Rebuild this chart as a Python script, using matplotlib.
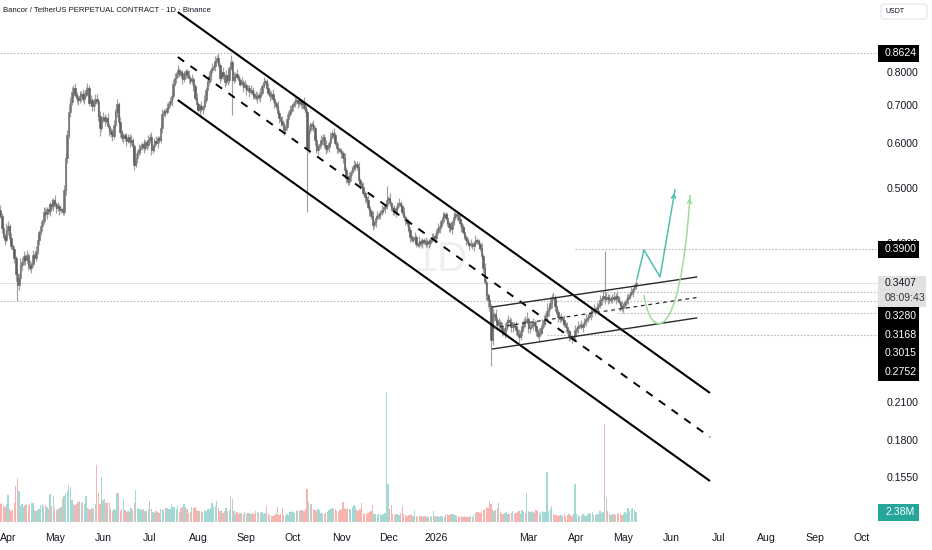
import numpy as np
import pandas as pd
import matplotlib
matplotlib.use('Agg')
import matplotlib.pyplot as plt
import matplotlib.dates as mdates
from matplotlib import font_manager
from matplotlib.patches import Rectangle, FancyBboxPatch, PathPatch
from matplotlib.path import Path
from matplotlib.ticker import NullLocator

# ---------------- data ----------------
start_date = '2025-03-27'
first_open = 0.457
closes = [
0.447,0.425,0.412,0.405,0.422,0.428,0.408,0.395,0.391,0.376,
0.353,0.337,0.347,0.366,0.370,0.379,0.373,0.381,0.366,0.362,
0.367,0.381,0.376,0.387,0.405,0.418,0.428,0.437,0.453,0.450,
0.459,0.455,0.468,0.464,0.476,0.468,0.461,0.464,0.457,0.459,
0.453,0.496,0.565,0.619,0.681,0.708,0.738,0.750,0.729,0.721,
0.714,0.725,0.732,0.717,0.729,0.744,0.750,0.705,0.714,0.696,
0.705,0.717,0.710,0.670,0.637,0.659,0.667,0.656,0.664,0.643,
0.630,0.622,0.617,0.646,0.681,0.702,0.654,0.627,0.612,0.619,
0.612,0.605,0.615,0.602,0.607,0.592,0.549,0.565,0.578,0.585,
0.590,0.597,0.588,0.602,0.595,0.607,0.615,0.583,0.592,0.605,
0.600,0.612,0.607,0.637,0.675,0.683,0.681,0.692,0.702,0.710,
0.725,0.762,0.780,0.793,0.806,0.800,0.790,0.777,0.796,0.803,
0.790,0.780,0.771,0.777,0.756,0.721,0.702,0.686,0.696,0.688,
0.694,0.714,0.744,0.768,0.787,0.806,0.813,0.820,0.837,0.847,
0.823,0.782,0.800,0.787,0.768,0.790,0.774,0.813,0.833,0.774,
0.784,0.793,0.784,0.774,0.762,0.768,0.753,0.759,0.744,0.750,
0.738,0.744,0.732,0.725,0.720,0.729,0.722,0.735,0.756,0.768,
0.771,0.750,0.735,0.725,0.732,0.717,0.705,0.696,0.678,0.664,
0.656,0.648,0.632,0.640,0.662,0.675,0.686,0.696,0.702,0.710,
0.714,0.705,0.710,0.702,0.708,0.692,0.681,0.588,0.632,0.648,
0.646,0.637,0.607,0.583,0.592,0.597,0.607,0.615,0.595,0.585,
0.590,0.600,0.615,0.626,0.620,0.600,0.588,0.583,0.581,0.576,
0.565,0.538,0.520,0.512,0.524,0.533,0.542,0.548,0.552,0.544,
0.516,0.508,0.502,0.490,0.482,0.476,0.463,0.455,0.446,0.430,
0.435,0.443,0.446,0.450,0.453,0.457,0.461,0.464,0.476,0.480,
0.470,0.461,0.457,0.453,0.461,0.468,0.470,0.464,0.453,0.444,
0.439,0.433,0.422,0.410,0.405,0.408,0.410,0.398,0.397,0.403,
0.400,0.405,0.402,0.398,0.403,0.400,0.405,0.408,0.412,0.408,
0.419,0.425,0.428,0.437,0.444,0.450,0.443,0.433,0.427,0.423,
0.435,0.444,0.450,0.448,0.441,0.433,0.427,0.419,0.410,0.405,
0.400,0.397,0.398,0.395,0.400,0.405,0.403,0.398,0.392,0.379,
0.361,0.342,0.324,0.318,0.310,0.270,0.298,0.300,0.293,0.287,
0.290,0.285,0.280,0.278,0.284,0.291,0.293,0.290,0.285,0.288,
0.286,0.281,0.277,0.273,0.280,0.286,0.292,0.291,0.294,0.284,
0.285,0.287,0.290,0.286,0.280,0.275,0.278,0.284,0.288,0.293,
0.298,0.304,0.308,0.314,0.322,0.321,0.310,0.303,0.296,0.294,
0.295,0.293,0.288,0.285,0.280,0.275,0.273,0.272,0.274,0.281,
0.283,0.286,0.287,0.285,0.288,0.292,0.294,0.297,0.299,0.303,
0.304,0.306,0.305,0.309,0.311,0.318,0.320,0.323,0.319,0.322,
0.319,0.317,0.320,0.322,0.319,0.323,0.320,0.315,0.310,0.307,
0.311,0.315,0.319,0.322,0.326,0.328,0.332,0.336,0.3407]

# wick extension beyond the body, percent
wick_up = [
2,1,2,1,3,2,1,2,1,1, 1,2,2,3,2,2,1,2,1,2, 1,2,1,2,2,1,2,1,2,2, 1,2,1,2,1,2,1,2,1,1,
1,2,2,2,3,2,2,1,2,1, 1,2,1,2,1,1,2,1,2,1, 1,2,2,1,2,1,2,1,1,2, 1,1,2,2,1,2,1,2,1,1,
1,2,1,1,2,1,1,2,1,2, 1,1,2,1,1,2,1,2,1,1, 2,1,1,2,2,1,1,2,1,2, 1,2,2,1,2,1,1,2,1,1,
1,2,1,2,1,1,2,1,1,2, 1,2,1,1,2,1,2,1,2,1, 2,1,1,2,1,2,1,1,3,1, 2,1,2,1,1,2,1,2,1,1,
1,2,1,1,2,1,1,2,1,2, 1,1,2,1,1,2,1,1,2,1, 1,2,1,1,2,1,2,1,1,2, 1,1,2,1,1,2,1,1,2,1,
1,2,1,2,1,1,2,1,1,2, 1,1,2,1,2,1,1,2,1,1, 1,2,1,1,2,1,1,2,1,1, 2,1,1,2,1,1,2,1,1,2,
1,1,2,1,1,2,1,1,6,1, 2,1,1,2,1,1,2,1,1,2, 1,1,2,1,1,1,2,1,1,2, 1,1,1,2,1,1,1,2,1,1,
1,2,1,1,2,1,1,2,1,1, 1,2,1,1,1,2,1,1,2,1, 1,1,2,1,1,2,1,1,1,2, 1,2,1,1,2,1,3,1,2,1,
2,1,2,1,2,1,2,1,2,1, 1,2,1,2,1,2,1,2,3,1, 2,1,2,1,2,1,2,1,2,2, 1,3,1,2,1,2,1,2,1,1,
2,1,2,1,2,1,2,1,1,2, 1,2,1,2,1,1,2,1,1,2, 1,2,1,2,1,2,1,2,20,2, 1,2,1,1,2,1,2,1,1,2,
1,1,2,1,1,2,1,1,1]
wick_dn = [
1,2,1,2,1,2,2,1,2,2, 3,6,2,1,2,1,2,1,2,1, 2,1,2,1,1,2,1,2,1,1, 2,1,2,1,2,1,2,1,2,1,
1,1,2,2,1,2,1,2,1,2, 2,1,2,1,2,1,2,1,1,2, 2,1,1,2,3,1,1,2,1,1, 2,1,2,1,1,2,1,2,1,2,
1,2,1,2,1,5,2,1,2,1, 2,1,2,1,2,1,1,2,1,2, 1,2,1,1,2,1,2,1,1,1, 2,1,1,2,1,2,1,2,1,2,
1,2,1,1,2,1,2,1,2,1, 2,1,1,2,1,2,1,1,2,1, 1,2,1,1,2,1,2,1,1,13, 1,2,1,2,1,1,2,1,2,1,
2,1,2,1,1,2,1,2,1,1, 1,2,1,2,1,1,2,1,1,2, 2,1,2,1,1,2,1,1,2,1, 1,2,1,1,2,1,2,23,2,1,
2,1,2,1,2,1,1,2,1,2, 1,2,1,1,2,1,2,1,1,2, 2,1,2,1,1,2,1,1,2,1, 1,2,1,1,2,1,1,2,1,2,
1,2,1,1,2,1,1,2,1,2, 1,1,2,1,2,1,1,2,1,1, 2,1,1,2,1,1,2,1,1,1, 1,2,1,1,1,2,1,1,1,2,
1,1,2,1,1,2,1,1,2,1, 2,1,1,2,1,1,2,1,1,2, 1,2,1,1,2,1,1,2,1,1, 2,1,2,3,2,10,2,2,1,2,
2,1,2,1,2,1,2,1,2,2, 1,2,1,2,1,2,1,2,1,2, 2,1,2,1,2,1,2,1,2,1, 2,1,2,1,2,1,2,1,2,1,
1,2,1,2,1,2,1,2,1,2, 1,2,1,1,2,1,2,1,1,2, 2,1,2,1,2,1,2,1,2,1, 2,1,1,2,1,2,1,1,2,1,
2,1,1,2,1,1,2,1,1]
volumes = [
4.2,4.6,4.0,3.5,4.4,6.4,3.0,2.6,2.9,4.5, 8.6,10.5,7.3,3.8,4.2,3.6,4.0,4.3,3.9,4.4,
4.6,4.5,2.9,2.7,2.8,3.1,4.0,4.2,3.9,4.1, 3.6,3.2,6.7,3.8,6.3,3.4,2.9,3.0,3.3,3.6,
5.8,6.2,6.9,7.3,8.8,8.4,5.2,4.4,4.0,4.3, 4.7,4.9,4.6,4.8,4.4,6.3,3.4,3.0,2.9,3.3,
3.1,4.2,13.5,7.0,4.3,10.6,5.2,5.4,4.6,4.8, 4.5,3.0,2.6,3.2,2.9,7.0,6.8,2.7,3.1,5.5,
2.9,2.4,2.7,2.3,3.4,2.8,4.6,7.5,3.3,3.0, 3.2,2.9,3.0,2.6,2.5,3.1,5.0,3.2,2.4,2.2,
2.6,2.3,2.1,3.0,2.8,3.2,3.4,3.3,3.2,3.1, 4.3,3.5,3.6,3.2,3.7,2.4,3.3,3.5,4.2,3.5,
3.0,2.2,2.4,3.5,3.3,3.6,2.9,2.6,2.7,2.5, 2.4,2.9,2.6,3.0,3.1,3.3,4.5,3.6,3.8,5.0,
3.3,2.5,2.8,2.2,2.6,3.4,2.5,2.9,6.3,5.5, 2.6,2.0,2.3,1.9,2.2,2.1,1.9,2.4,2.0,2.2,
2.1,1.8,2.2,2.0,2.5,2.3,2.1,2.2,2.4,2.0, 2.1,3.7,1.9,1.6,1.5,1.4,1.7,2.0,3.5,1.7,
1.9,3.3,1.6,1.5,1.8,1.6,2.3,2.6,2.4,2.2, 2.7,2.8,2.6,2.8,2.9,2.5,3.0,7.8,4.7,4.3,
4.3,3.0,2.8,2.5,3.2,2.9,2.1,1.9,2.0,2.2, 2.3,2.9,3.1,3.3,3.0,3.2,2.6,2.4,2.9,3.1,
4.7,3.4,3.1,3.3,3.0,3.2,3.5,4.0,3.6,2.9, 2.6,3.2,4.5,2.2,2.0,1.9,2.1,2.3,2.7,4.0,
2.0,1.8,1.7,1.9,1.8,1.6,1.9,2.1,31.0,9.0, 3.0,4.0,1.9,1.7,2.0,1.8,1.6,2.2,3.8,1.9,
1.6,1.5,1.7,1.6,1.8,1.5,2.8,1.4,1.3,1.5, 1.4,1.3,1.5,1.4,1.2,1.4,1.3,1.5,2.5,1.4,
1.3,1.4,1.2,1.5,1.4,1.3,1.8,1.9,1.7,1.8, 1.9,1.8,1.7,1.5,1.4,1.3,1.4,1.2,1.5,1.3,
1.4,1.3,1.5,1.2,1.6,2.2,2.3,2.4,2.1,2.6, 2.8,3.2,3.5,3.4,5.0,4.3,3.0,2.7,2.9,3.3,
4.5,2.3,2.0,1.8,2.1,2.4,2.0,1.9,2.2,2.5, 2.0,2.1,2.3,2.5,2.0,2.8,2.4,2.2,6.8,2.6,
2.3,2.6,2.4,2.2,2.9,2.5,2.0,2.3,2.7,2.4, 2.3,11.8,2.5,3.0,3.8,2.0,1.7,1.6,1.5,1.7,
1.6,1.4,1.8,1.5,1.6,1.9,1.7,1.5,1.8,9.1, 1.8,1.6,1.4,1.5,2.0,1.6,1.4,1.7,2.1,1.8,
2.3,1.7,1.6,2.0,1.8,2.6,2.2,2.4,23.4,5.8, 2.6,1.8,1.6,2.0,1.9,1.7,2.2,1.8,2.0,1.7,
1.9,2.3,2.1,3.3,2.5,3.1,3.4,2.8,2.38]

price_ticks = [0.8, 0.7, 0.6, 0.5, 0.4, 0.21, 0.18, 0.155]
month_ticks = ['2025-04-01','2025-05-01','2025-06-01','2025-07-01','2025-08-01','2025-09-01',
               '2025-10-01','2025-11-01','2025-12-01','2026-01-01','2026-03-01','2026-04-01',
               '2026-05-01','2026-06-01','2026-07-01','2026-08-01','2026-09-01','2026-10-01']
month_labels = ['Apr','May','Jun','Jul','Aug','Sep','Oct','Nov','Dec','2026',
                'Mar','Apr','May','Jun','Jul','Aug','Sep','Oct']

# horizontal levels: (price, start date or None for full width)
levels = [(0.8624, None), (0.3168, None), (0.3900, '2026-03-31'),
          (0.3280, '2026-04-16'), (0.3015, '2026-04-27'), (0.2752, '2026-03-13')]
current_price = 0.3407
countdown = '08:09:43'
current_volume = 2.38
stack_labels = [0.3280, 0.3168, 0.3015, 0.2752]

# drawings (date, price)
chan_upper = [('2025-07-19', 1.020), ('2026-06-25 14:00', 0.2179)]
chan_mid = [('2025-07-19', 0.850), ('2026-06-25 14:00', 0.1823)]
chan_lower = [('2025-07-19', 0.714), ('2026-06-25 14:00', 0.1525)]
rise_upper = [('2026-02-06', 0.3087), ('2026-06-17', 0.3486)]
rise_mid = [('2026-02-06', 0.2836), ('2026-06-17', 0.3208)]
rise_lower = [('2026-02-06', 0.2604), ('2026-06-17', 0.2953)]
proj_zigzag = [('2026-05-09 17:00', 0.3458), ('2026-05-14 05:00', 0.389),
               ('2026-05-24 12:00', 0.3486), ('2026-06-03 02:00', 0.496)]
proj_curve = [('2026-05-14 05:00', 0.3241), ('2026-05-18 02:00', 0.2722),
              ('2026-06-06 07:00', 0.2572), ('2026-06-12 19:00', 0.486)]

n = len(closes)
assert len(wick_up) == n and len(wick_dn) == n and len(volumes) == n

# ---------------- fonts ----------------
installed = {f.name for f in font_manager.fontManager.ttflist}
if 'Liberation Sans Narrow' in installed:
    AXFONT, AXSIZE = 'Liberation Sans Narrow', 8.6
else:
    AXFONT, AXSIZE = 'Liberation Sans', 7.6
plt.rcParams['font.family'] = [AXFONT, 'DejaVu Sans']

# ---------------- figure ----------------
W, H = 932, 550
fig = plt.figure(figsize=(W / 100, H / 100), dpi=100)
fig.patch.set_facecolor('white')
rect = [0, 24 / H, 880 / W, 526 / H]
vax = fig.add_axes(rect)
ax = fig.add_axes(rect)
ax.patch.set_visible(False)

d0 = pd.Timestamp(start_date)
dates = pd.date_range(start_date, periods=n, freq='D')
xs = mdates.date2num(dates)
x0 = mdates.date2num(d0)
xlim = (x0 - 0.13, x0 + 564.7)

def dn(s):
    return mdates.date2num(pd.Timestamp(s))

opens = np.array([first_open] + closes[:-1])
cl = np.array(closes)
top = np.maximum(opens, cl)
bot = np.minimum(opens, cl)
highs = top * (1 + np.array(wick_up) / 100.0)
lows = bot * (1 - np.array(wick_dn) / 100.0)
up = cl >= opens

# volume
vcol = np.where(up, '#a3d9d2', '#f7b4b1')
vax.bar(xs, volumes, width=0.85, color=vcol, linewidth=0)
vax.set_xlim(*xlim)
vax.set_ylim(-0.95, 124.2)
vax.axis('off')

# price axes
ax.set_yscale('log')
ax.set_xlim(*xlim)
ax.set_ylim(0.1271, 1.071)

ax.text(dn('2026-01-04'), 0.373, '1D', fontsize=30, color='#efefef',
        ha='center', va='center', zorder=0.5, family='Liberation Sans')

for p, s in levels:
    xa = xlim[0] if s is None else dn(s)
    ax.plot([xa, xlim[1]], [p, p], color='#b8b8b8', lw=0.8, ls=(0, (1.5, 1.5)), zorder=1)
ax.plot([xlim[0], xlim[1]], [current_price] * 2, color='#e4e4e4', lw=0.7, zorder=1)

ax.vlines(xs, lows, highs, color='#a0a0a0', lw=0.85, zorder=2)
bcol = np.where(up, '#717171', '#5e5e5e')
ax.bar(xs, np.maximum(top - bot, top * 0.003), bottom=bot, width=0.95,
       color=bcol, edgecolor=bcol, linewidth=0.4, zorder=3)

def draw(seg, **kw):
    ax.plot([dn(a) for a, _ in seg], [b for _, b in seg], **kw)

draw(chan_upper, color='black', lw=1.5, zorder=5, solid_capstyle='butt')
draw(chan_lower, color='black', lw=1.5, zorder=5, solid_capstyle='butt')
draw(chan_mid, color='black', lw=1.4, ls=(0, (4, 4)), zorder=5)
draw(rise_upper, color='#2a2a2a', lw=1.0, zorder=5)
draw(rise_lower, color='#2a2a2a', lw=1.0, zorder=5)
draw(rise_mid, color='#2a2a2a', lw=0.9, ls=(0, (3, 3)), zorder=5)

teal = '#4fbfae'
lgreen = '#9fdc9a'
draw(proj_zigzag, color=teal, lw=1.1, zorder=6)
ax.annotate('', xy=(dn(proj_zigzag[-1][0]), proj_zigzag[-1][1]), xytext=(-1.2, -7),
            textcoords='offset points',
            arrowprops=dict(arrowstyle='->', color=teal, lw=1.1, mutation_scale=7), zorder=6)
cv = [(dn(a), b) for a, b in proj_curve]
path = Path(cv, [Path.MOVETO, Path.CURVE4, Path.CURVE4, Path.CURVE4])
ax.add_patch(PathPatch(path, facecolor='none', edgecolor=lgreen, lw=1.1, zorder=6))
ax.annotate('', xy=cv[-1], xytext=(-0.5, -7), textcoords='offset points',
            arrowprops=dict(arrowstyle='->', color=lgreen, lw=1.1, mutation_scale=7), zorder=6)

for sp in ax.spines.values():
    sp.set_visible(False)
ax.yaxis.tick_right()
ax.yaxis.set_minor_locator(NullLocator())
ax.set_yticks(price_ticks)
ax.set_yticklabels([f'{t:.4f}' for t in price_ticks])
ax.tick_params(axis='y', which='both', length=0, pad=5, labelsize=AXSIZE, labelcolor='#131722')
ax.set_xticks([dn(m) for m in month_ticks])
ax.set_xticklabels(month_labels)
ax.tick_params(axis='x', length=0, pad=5, labelsize=AXSIZE, labelcolor='#131722')

# ---------------- right-scale labels ----------------
def ypx(price):
    return H - ax.transData.transform((xlim[0], price))[1]

def box(xl, yt, w, h, fc, ec='none', lw=0):
    fig.add_artist(Rectangle((xl / W, 1 - (yt + h) / H), w / W, h / H,
                             transform=fig.transFigure, facecolor=fc, edgecolor=ec, lw=lw))

def label(xl, yc, s, color, **kw):
    fig.text(xl / W, 1 - yc / H, s, color=color, fontsize=AXSIZE, ha='left', va='center', **kw)

for p in (0.8624, 0.3900):
    yc = ypx(p)
    box(878, yc - 8.5, 41, 17, '#000000')
    label(885, yc, f'{p:.4f}', 'white')

yc = ypx(current_price)
box(878, yc - 7, 48, 31, '#e1e1e1')
label(885, yc, f'{current_price:.4f}', '#131722')
label(885, yc + 15.5, countdown, '#3a3a3a')
ys = yc + 24
for p in stack_labels:
    box(878, ys, 41, 18.7, '#000000')
    label(885, ys + 9.35, f'{p:.4f}', 'white')
    ys += 18.7

vy = H - vax.transData.transform((xlim[0], current_volume))[1]
box(878, vy - 8.5, 41, 17, '#26a69a')
label(885, vy, f'{current_volume:.2f}M', 'white')

fig.add_artist(FancyBboxPatch((881 / W, 1 - 19 / H), 46 / W, 15 / H,
                              boxstyle='round,pad=0,rounding_size=0.004',
                              transform=fig.transFigure, facecolor='white',
                              edgecolor='#e0e3eb', lw=0.8))
fig.text(885 / W, 1 - 11.5 / H, 'USDT', fontsize=5, color='#131722', ha='left', va='center')

fig.text(3 / W, 1 - 10 / H, 'Bancor / TetherUS PERPETUAL CONTRACT · 1D · Binance',
         fontsize=5.6, color='#131722', ha='left', va='center')

fig.savefig('out.png', dpi=100, facecolor='white')
